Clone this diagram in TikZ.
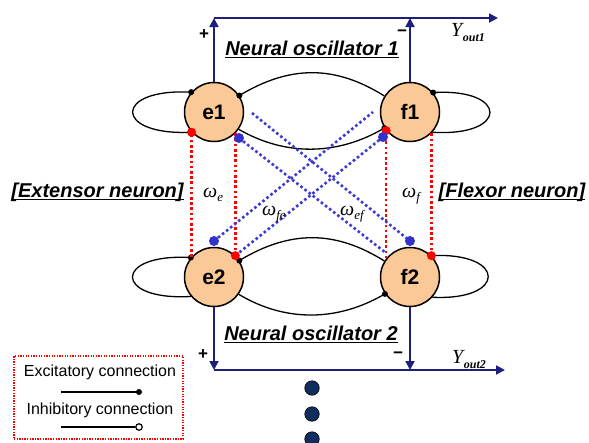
\documentclass[tikz,border=0pt]{standalone}
\usepackage{fontspec}
\setmainfont{Liberation Sans}
\newfontfamily\tms{Liberation Serif}
\usetikzlibrary{arrows.meta}
\definecolor{peach}{RGB}{251,201,151}
\definecolor{navy}{RGB}{30,30,125}
\definecolor{bdotted}{RGB}{60,60,210}
\definecolor{bdotc}{RGB}{50,50,205}
\definecolor{dnavy}{RGB}{15,45,95}
\newcommand\ulx[1]{\setbox0=\hbox{#1}\rlap{\rule[-2.6pt]{\wd0}{0.9pt}}\box0}
\newcommand\sbx[1]{\raisebox{-4.5pt}{\fontsize{13}{13}\selectfont #1}}
\newcommand\ysb[1]{\kern0.5pt\raisebox{-5pt}{\fontsize{12}{12}\selectfont\bfseries #1}}
\begin{document}
\begin{tikzpicture}[x=1pt,y=-1pt,
 neuron/.style={circle, draw=black, line width=1.5pt, fill=peach, minimum size=59pt, inner sep=0pt, font=\fontsize{21}{21}\selectfont\bfseries},
 conn/.style={line width=1.3pt},
 outa/.style={navy, line width=1.8pt, -{Triangle[length=9pt,width=9pt]}},
 rline/.style={red, line width=2.6pt, dash pattern=on 2.6pt off 2.6pt},
 bline/.style={bdotted, line width=2.6pt, dash pattern=on 2.6pt off 2.6pt},
 rdot/.style={circle, fill=red, minimum size=9pt, inner sep=0pt},
 bdot/.style={circle, fill=bdotc, minimum size=10pt, inner sep=0pt},
 kdot/.style={circle, fill=black, minimum size=6pt, inner sep=0pt},
 odot/.style={circle, draw=black, fill=white, line width=1.2pt, minimum size=6.5pt, inner sep=0pt},
 ddot/.style={circle, draw=black, line width=0.6pt, fill=dnavy, minimum size=14.5pt, inner sep=0pt},
 lab/.style={inner sep=0pt, font=\fontsize{20}{20}\selectfont\bfseries\itshape},
 pm/.style={inner sep=0pt, font=\fontsize{17}{17}\selectfont\bfseries},
 om/.style={inner sep=0pt, font=\tms\itshape\fontsize{20}{20}\selectfont},
 legtxt/.style={inner sep=0pt, font=\fontsize{16}{16}\selectfont},
 legbox/.style={draw=red, line width=1.3pt, dash pattern=on 1.3pt off 1.3pt, minimum width=169pt, minimum height=83pt, inner sep=0pt}
]
\useasboundingbox (0,0) rectangle (589,442);
\fill[white] (0,0) rectangle (589,442);

% neurons
\node[neuron] (e1) at (214,112) {e1};
\node[neuron] (f1) at (410,112) {f1};
\node[neuron] (e2) at (214,277) {e2};
\node[neuron] (f2) at (410,277) {f2};

% outputs
\coordinate (yo1) at (498,18);
\coordinate (yo2) at (505,370);
\draw[outa] (e1.north) -- (e1.north |- yo1);
\draw[outa] (f1.north) -- (f1.north |- yo1);
\draw[outa] (e1.north |- yo1) -- (yo1);
\draw[outa] (e2.south) -- (e2.south |- yo2);
\draw[outa] (f2.south) -- (f2.south |- yo2);
\draw[outa] (e2.south |- yo2) -- (yo2);

% black connections
\draw[conn] (e1.222) .. controls (113,136) and (113,88) .. (e1.139);
\draw[conn] (f1.148) .. controls (335,65) and (290,65) .. (e1.33);
\draw[conn] (e1.325) .. controls (285,156) and (337,156) .. (f1.212);
\draw[conn] (f1.318) .. controls (509,137) and (509,88) .. (f1.40);
\draw[conn] (e2.220) .. controls (113,301) and (113,253) .. (e2.140);
\draw[conn] (f2.148) .. controls (335,230) and (290,230) .. (e2.33);
\draw[conn] (e2.325) .. controls (285,322) and (337,322) .. (f2.214);
\draw[conn] (f2.318) .. controls (507,301) and (507,252) .. (f2.45);
\node[kdot] (k1) at (e1.139) {};
\node[kdot] (k2) at (e1.33) {};
\node[kdot] (k3) at (f1.212) {};
\node[kdot] (k4) at (f1.40) {};
\node[kdot] (k5) at (e2.140) {};
\node[kdot] (k6) at (e2.33) {};
\node[kdot] (k7) at (f2.214) {};

% red dotted connections
\draw[rline] (e2.138) -- (e1.222);
\draw[rline] (e1.315) -- (e2.45);
\draw[rline] (f2.142) -- (f1.218);
\draw[rline] (f1.315) -- (f2.45);

% blue dotted connections
\coordinate (pbe1) at (239,138);
\coordinate (pbf1) at (383,137);
\coordinate (pbe2) at (214,241);
\coordinate (pbf2) at (410,241);
\coordinate (s1) at (252,113);
\coordinate (s2) at (386,253);
\coordinate (s3) at (373,112);
\draw[bline] (s1) -- (pbf2);
\draw[bline] (pbe1) -- (s2);
\draw[bline] (pbe2) -- (s3);
\draw[bline] (e2.45) -- (pbf1);

% dots on top
\node[rdot] (r1) at (e1.222) {};
\node[rdot] (r2) at (e2.45) {};
\node[rdot] (r3) at (f1.218) {};
\node[rdot] (r4) at (f2.45) {};
\node[bdot] (be1) at (pbe1) {};
\node[bdot] (bf1) at (pbf1) {};
\node[bdot] (be2) at (pbe2) {};
\node[bdot] (bf2) at (pbf2) {};

% labels
\node[lab, anchor=base] (no1) at (312,55) {\ulx{Neural oscillator 1}};
\node[lab, anchor=base] (no2) at (311,340) {\ulx{Neural oscillator 2}};
\node[lab, anchor=base] (ext) at (97.5,197) {\ulx{[Extensor neuron]}};
\node[lab, anchor=base] (flx) at (512,197) {\ulx{[Flexor neuron]}};
\node[pm] (p1) at (204,35) {+};
\node[pm] (m1) at (402,33) {−};
\node[pm] (p2) at (203,355) {+};
\node[pm] (m2) at (398,355) {−};
\node[om, anchor=base west] (y1) at (451,36) {Y\ysb{out1}};
\node[om, anchor=base west] (y2) at (452,363) {Y\ysb{out2}};
\node[om, anchor=base west] (we) at (203,197) {ω\sbx{e}};
\node[om, anchor=base west] (wfe) at (262,215) {ω\sbx{fe}};
\node[om, anchor=base west] (wef) at (340,215) {ω\sbx{ef}};
\node[om, anchor=base west] (wf) at (402,197) {ω\sbx{f}};

% continuation dots
\node[ddot] (d1) at (312,388) {};
\node[ddot] (d2) at (312,414) {};
\node[ddot] (d3) at (312,439) {};

% legend
\node[legbox] (leg) at (98.5,397.5) {};
\node[legtxt] (lt1) at (100,372) {Excitatory connection};
\node[legtxt] (lt2) at (100,410) {Inhibitory connection};
\coordinate (la1) at (61,392);
\node[kdot] (la2) at (139,392) {};
\draw[conn, line width=1.2pt] (la1) -- (la2.center);
\coordinate (lb1) at (61,427);
\node[odot] (lb2) at (139,427) {};
\draw[conn, line width=1.2pt] (lb1) -- (lb2);
\end{tikzpicture}
\end{document}
